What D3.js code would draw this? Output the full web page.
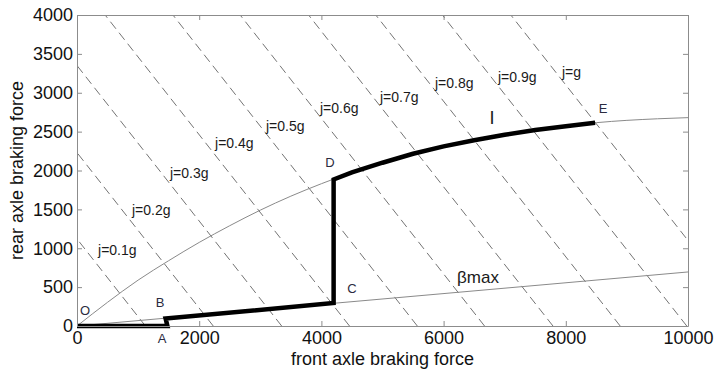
<!DOCTYPE html>
<html>
<head>
<meta charset="utf-8">
<script src="https://d3js.org/d3.v7.min.js"></script>
<style>
  body { margin: 0; background: #fff; }
  svg { display: block; font-family: "Liberation Sans", Arial, sans-serif; }
</style>
</head>
<body>
<div id="chart"></div>
<script>
// Braking force distribution chart

// ideal distribution curve I (front force vs rear force)
const idealFront = [0, 500, 1000, 1500, 2000, 2500, 3000, 3500, 4000, 4500, 5000, 5500, 6000, 6500, 7000, 7500, 8000, 8500, 9000, 9500, 10000];
const idealRear  = [0, 305, 590, 840, 1075, 1290, 1490, 1670, 1830, 1975, 2100, 2215, 2310, 2390, 2460, 2520, 2570, 2615, 2645, 2665, 2680];

// beta max line
const betaFront = [0, 10000];
const betaRear  = [0, 695];

// actual distribution O-A-B-C-D, then follows I up to E
const actualFront = [0, 1480, 1450, 4200, 4200];
const actualRear  = [0, 0, 95, 295, 1885];
const actualEndFront = 8480;

// constant deceleration lines: front + rear = intercept
const jIntercepts = [1120, 2230, 3350, 4460, 5570, 6670, 7790, 8890, 9980, 11100];
const jLabels = ['j=0.1g', 'j=0.2g', 'j=0.3g', 'j=0.4g', 'j=0.5g', 'j=0.6g', 'j=0.7g', 'j=0.8g', 'j=0.9g', 'j=g'];
const jLabelX = [344, 900, 1522, 2259, 3093, 3977, 4959, 5859, 6890, 7938];
const jLabelY = [977, 1492, 1968, 2354, 2572, 2804, 2945, 3125, 3203, 3267];

// point labels
const pointNames = ['O', 'A', 'B', 'C', 'D', 'E'];
const pointX = [130, 1391, 1360, 4500, 4140, 8610];
const pointY = [206, -154, 309, 489, 2109, 2804];

// axis ticks
const xTicks = [0, 2000, 4000, 6000, 8000, 10000];
const yTicks = [0, 500, 1000, 1500, 2000, 2500, 3000, 3500, 4000];

const width = 714, height = 369;
const margin = { top: 15, right: 26, bottom: 43, left: 77 };
const innerW = width - margin.left - margin.right;
const innerH = height - margin.top - margin.bottom;

const svg = d3.select('#chart').append('svg')
  .attr('width', width)
  .attr('height', height);

const g = svg.append('g')
  .attr('transform', `translate(${margin.left},${margin.top})`);

const x = d3.scaleLinear().domain([0, 10000]).range([0, innerW]);
const y = d3.scaleLinear().domain([0, 4000]).range([innerH, 0]);

svg.append('defs').append('clipPath')
  .attr('id', 'plot-clip')
  .append('rect')
  .attr('width', innerW)
  .attr('height', innerH);

const plot = g.append('g').attr('clip-path', 'url(#plot-clip)');

// dashed deceleration lines
plot.selectAll('line.jline')
  .data(jIntercepts)
  .enter().append('line')
  .attr('class', 'jline')
  .attr('x1', d => x(d))
  .attr('y1', y(0))
  .attr('x2', d => x(d - 4000))
  .attr('y2', y(4000))
  .attr('stroke', '#747474')
  .attr('stroke-width', 1)
  .attr('stroke-dasharray', '9,5');

const line = d3.line().x(d => x(d[0])).y(d => y(d[1]));

// ideal curve I
plot.append('path')
  .datum(idealFront.map((f, i) => [f, idealRear[i]]))
  .attr('d', line.curve(d3.curveMonotoneX))
  .attr('fill', 'none')
  .attr('stroke', '#8a8a8a')
  .attr('stroke-width', 1);

// beta max line
plot.append('path')
  .datum(betaFront.map((f, i) => [f, betaRear[i]]))
  .attr('d', d3.line().x(d => x(d[0])).y(d => y(d[1])))
  .attr('fill', 'none')
  .attr('stroke', '#8a8a8a')
  .attr('stroke-width', 1);

// actual path, joined to I between D and E
const actualPts = actualFront.map((f, i) => [f, actualRear[i]]);
const rearAt = d3.scaleLinear().domain(idealFront).range(idealRear);
idealFront.forEach(f => {
  if (f > actualFront[actualFront.length - 1] && f < actualEndFront) actualPts.push([f, rearAt(f)]);
});
actualPts.push([actualEndFront, rearAt(actualEndFront)]);

g.append('path')
  .datum(actualPts)
  .attr('d', d3.line().x(d => x(d[0])).y(d => y(d[1])).curve(d3.curveLinear))
  .attr('fill', 'none')
  .attr('stroke', '#000')
  .attr('stroke-width', 4.5)
  .attr('stroke-linejoin', 'miter');

// axes
const axisColor = '#8c8c8c';

const xAxis = g.append('g')
  .attr('transform', `translate(0,${innerH})`)
  .call(d3.axisBottom(x).tickValues(xTicks).tickSizeInner(-5).tickSizeOuter(0).tickPadding(5).tickFormat(d3.format('d')));

const yAxis = g.append('g')
  .call(d3.axisLeft(y).tickValues(yTicks).tickSizeInner(-5).tickSizeOuter(0).tickPadding(4).tickFormat(d3.format('d')));

const xTop = g.append('g')
  .call(d3.axisTop(x).tickValues(xTicks).tickSizeInner(-5).tickSizeOuter(0).tickFormat(''));

const yRight = g.append('g')
  .attr('transform', `translate(${innerW},0)`)
  .call(d3.axisRight(y).tickValues(yTicks).tickSizeInner(-5).tickSizeOuter(0).tickFormat(''));

[xAxis, yAxis, xTop, yRight].forEach(a => {
  a.selectAll('path.domain').attr('stroke', axisColor);
  a.selectAll('.tick line').attr('stroke', axisColor);
  a.selectAll('.tick text')
    .attr('fill', '#111')
    .style('font-size', '18px')
    .style('font-family', '"Liberation Sans", Arial, sans-serif');
});

// axis titles
svg.append('text')
  .attr('x', margin.left + innerW / 2)
  .attr('y', 365)
  .attr('text-anchor', 'middle')
  .style('font-size', '18px')
  .attr('fill', '#111')
  .text('front axle braking force');

svg.append('text')
  .attr('transform', `translate(23,${margin.top + innerH / 2}) rotate(-90)`)
  .attr('text-anchor', 'middle')
  .style('font-size', '18px')
  .attr('fill', '#111')
  .text('rear axle braking force');

// deceleration labels
g.selectAll('text.jlabel')
  .data(jLabels)
  .enter().append('text')
  .attr('class', 'jlabel')
  .attr('x', (d, i) => x(jLabelX[i]))
  .attr('y', (d, i) => y(jLabelY[i]))
  .attr('dy', '0.35em')
  .style('font-size', '14px')
  .attr('fill', '#1a1a1a')
  .text(d => d);

// point labels
g.selectAll('text.plabel')
  .data(pointNames)
  .enter().append('text')
  .attr('class', 'plabel')
  .attr('x', (d, i) => x(pointX[i]))
  .attr('y', (d, i) => y(pointY[i]))
  .attr('dy', '0.36em')
  .attr('text-anchor', 'middle')
  .style('font-size', '13px')
  .attr('fill', '#2b2b40')
  .text(d => d);

// curve names
g.append('text')
  .attr('x', x(6792))
  .attr('y', y(2675))
  .attr('dy', '0.36em')
  .attr('text-anchor', 'middle')
  .style('font-size', '18px')
  .attr('fill', '#1a1a1a')
  .text('I');

g.append('text')
  .attr('x', x(6220))
  .attr('y', y(630))
  .attr('dy', '0.36em')
  .style('font-size', '17px')
  .attr('fill', '#1a1a1a')
  .text('βmax');
</script>
</body>
</html>
